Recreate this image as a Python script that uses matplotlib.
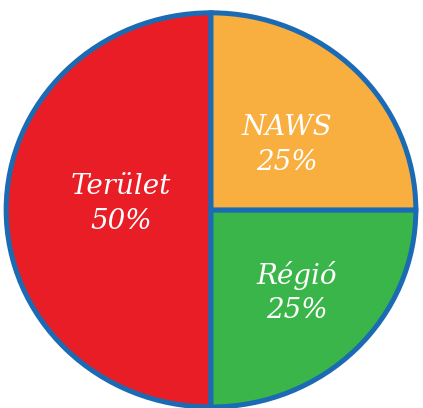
import matplotlib
matplotlib.use("Agg")
import matplotlib.pyplot as plt

categories = ["Terület", "Régió", "NAWS"]
values = [50, 25, 25]
labels = ["Terület\n50%", "Régió\n25%", "NAWS\n25%"]
colors = ["#E91D25", "#3AB54A", "#F9AE40"]
edge = "#1B6BB4"

fig = plt.figure(figsize=(4.23, 4.08), dpi=100)
ax = fig.add_axes([0, 0, 1, 1])
wedges, texts = ax.pie(values, colors=colors, startangle=90, counterclock=True,
                       radius=1.0, center=(0, 0),
                       wedgeprops=dict(edgecolor=edge, linewidth=3.6))
ax.set_aspect("auto")
ax.set_xlim(-1.03, 1.035)
ax.set_ylim(-1.005, 1.065)
ax.axis("off")

positions = [(-0.44, 0.03), (0.42, -0.42), (0.37, 0.33)]
for lab, (x, y) in zip(labels, positions):
    ax.text(x, y, lab, ha="center", va="center", color="white",
            fontsize=20, fontstyle="italic", family="DejaVu Serif",
            linespacing=1.35)

fig.savefig("out.png", dpi=100)
